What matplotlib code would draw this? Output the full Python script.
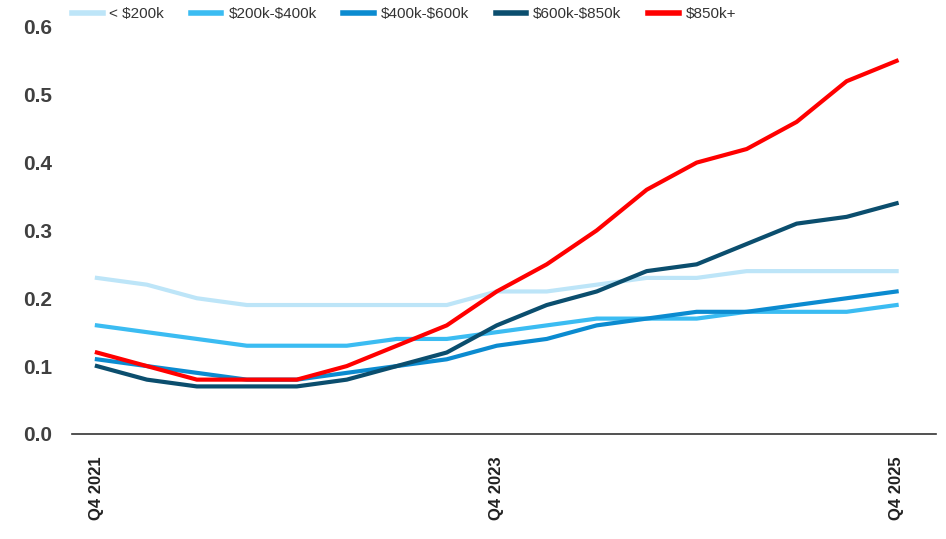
import matplotlib
matplotlib.use("Agg")
import matplotlib.pyplot as plt

plt.rcParams['font.family'] = ['Liberation Sans', 'DejaVu Sans']
plt.rcParams['text.parse_math'] = False

quarters = ['Q4 2021', 'Q1 2022', 'Q2 2022', 'Q3 2022', 'Q4 2022',
            'Q1 2023', 'Q2 2023', 'Q3 2023', 'Q4 2023',
            'Q1 2024', 'Q2 2024', 'Q3 2024', 'Q4 2024',
            'Q1 2025', 'Q2 2025', 'Q3 2025', 'Q4 2025']

under_200k = [0.23, 0.22, 0.20, 0.19, 0.19, 0.19, 0.19, 0.19, 0.21,
              0.21, 0.22, 0.23, 0.23, 0.24, 0.24, 0.24, 0.24]
k200_400 = [0.16, 0.15, 0.14, 0.13, 0.13, 0.13, 0.14, 0.14, 0.15,
            0.16, 0.17, 0.17, 0.17, 0.18, 0.18, 0.18, 0.19]
k400_600 = [0.11, 0.10, 0.09, 0.08, 0.08, 0.09, 0.10, 0.11, 0.13,
            0.14, 0.16, 0.17, 0.18, 0.18, 0.19, 0.20, 0.21]
k600_850 = [0.10, 0.08, 0.07, 0.07, 0.07, 0.08, 0.10, 0.12, 0.16,
            0.19, 0.21, 0.24, 0.25, 0.28, 0.31, 0.32, 0.34]
k850_plus = [0.12, 0.10, 0.08, 0.08, 0.08, 0.10, 0.13, 0.16, 0.21,
             0.25, 0.30, 0.36, 0.40, 0.42, 0.46, 0.52, 0.55]

series = [
    ('< $200k', under_200k, '#bde5f8'),
    ('$200k-$400k', k200_400, '#3bbcf2'),
    ('$400k-$600k', k400_600, '#0b8bd0'),
    ('$600k-$850k', k600_850, '#0b4e6e'),
    ('$850k+', k850_plus, '#ff0000'),
]

fig = plt.figure(figsize=(9.46, 5.39), dpi=100)
ax = fig.add_axes([0.076, 0.195, 0.913, 0.755])

x = list(range(len(quarters)))
for label, vals, color in series:
    ax.plot(x, vals, color=color, linewidth=3.0, label=label)

ax.set_xlim(-0.5, 16.78)
ax.set_ylim(0, 0.6)
ax.set_yticks([0.0, 0.1, 0.2, 0.3, 0.4, 0.5, 0.6])
ax.set_yticklabels(['0.0', '0.1', '0.2', '0.3', '0.4', '0.5', '0.6'])
ax.set_xticks([0, 8, 16])
ax.set_xticklabels([quarters[0], quarters[8], quarters[16]], rotation=90)

for side in ['top', 'right', 'left']:
    ax.spines[side].set_visible(False)
ax.spines['bottom'].set_color('#333333')
ax.spines['bottom'].set_linewidth(1.2)
ax.tick_params(axis='both', length=0)
ax.tick_params(axis='y', labelsize=15, labelcolor='#404040', pad=14)
ax.tick_params(axis='x', labelsize=12, labelcolor='#222222', pad=16)
for t in ax.get_yticklabels() + ax.get_xticklabels():
    t.set_fontweight('bold')

leg = fig.legend(loc='center left', bbox_to_anchor=(72 / 946, 1 - 14 / 539),
                 ncol=5, frameon=False, fontsize=11, handlelength=2.0,
                 columnspacing=1.75, handletextpad=0.45, borderpad=0,
                 borderaxespad=0)
for line in leg.get_lines():
    line.set_linewidth(4)
for t in leg.get_texts():
    t.set_color('#333333')

fig.savefig('out.png', dpi=100)
